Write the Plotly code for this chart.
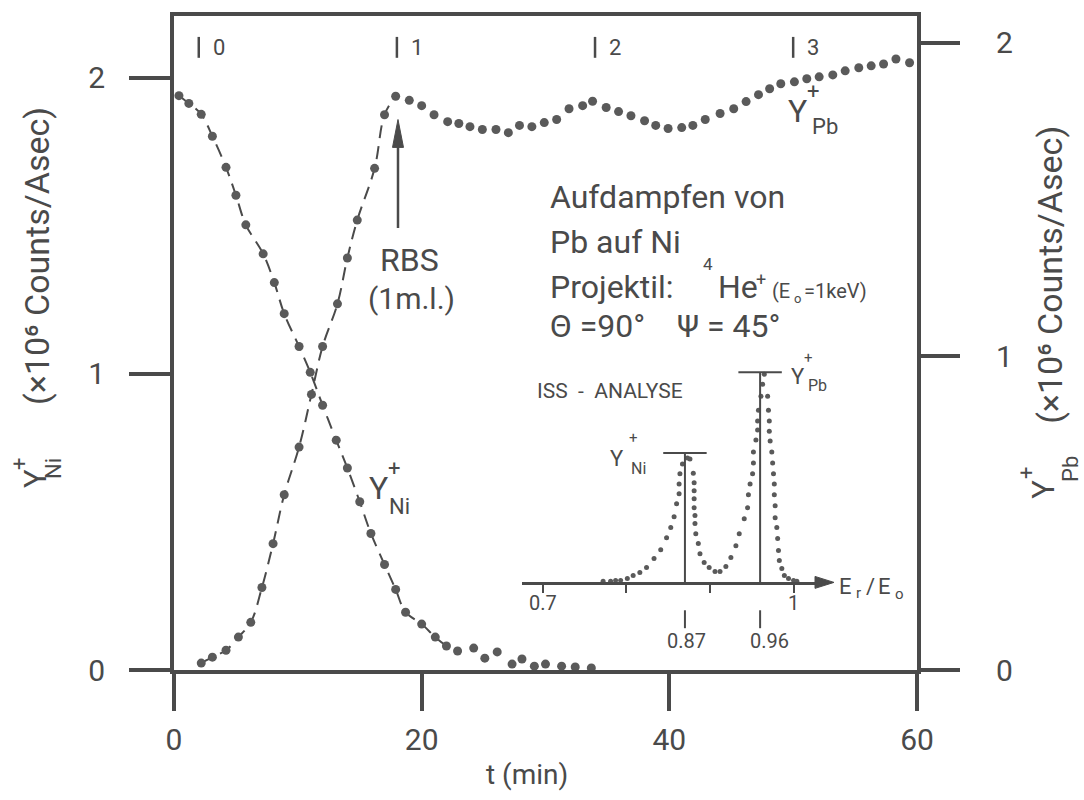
import plotly.graph_objects as go

# ---- time scan: ion yields while Pb is evaporated onto Ni ----
t_ni = [0.4, 1.2, 2.2, 3.1, 4.2, 5.0, 5.8, 7.2, 8.1, 8.9, 10.1, 11.0, 12.0, 13.1,
        14.0, 15.0, 15.9, 17.0, 17.9, 18.7, 20.0, 21.1, 22.0, 22.9, 24.2, 25.1,
        26.1, 27.3, 28.1, 29.1, 30.0, 31.3, 32.4, 33.7]
y_ni = [1.939, 1.913, 1.876, 1.802, 1.697, 1.603, 1.503, 1.405, 1.308, 1.203,
        1.092, 1.005, 0.894, 0.776, 0.682, 0.568, 0.461, 0.356, 0.272, 0.195,
        0.155, 0.111, 0.081, 0.064, 0.074, 0.040, 0.061, 0.020, 0.037, 0.013,
        0.020, 0.013, 0.010, 0.007]

t_pb = [2.2, 3.1, 4.2, 5.2, 6.2, 7.1, 8.0, 8.9, 10.1, 11.1, 12.0, 13.2, 14.0,
        14.8, 16.2, 17.0, 17.9, 19.0, 20.0, 21.0, 22.1, 23.0, 23.9, 24.9, 26.0,
        27.0, 27.9, 28.9, 29.9, 30.9, 31.9, 33.0, 33.8, 34.9, 35.9, 36.9, 38.0,
        38.9, 39.9, 41.0, 41.9, 42.9, 44.1, 45.2, 46.2, 47.2, 48.1, 49.0, 50.1,
        51.1, 52.1, 53.2, 54.2, 55.3, 56.3, 57.3, 58.3, 59.4]
y_pb = [0.022, 0.041, 0.063, 0.105, 0.152, 0.263, 0.403, 0.559, 0.711, 0.879,
        1.032, 1.168, 1.314, 1.435, 1.600, 1.771, 1.830, 1.817, 1.800, 1.771,
        1.749, 1.743, 1.733, 1.724, 1.724, 1.714, 1.737, 1.733, 1.746, 1.756,
        1.790, 1.800, 1.814, 1.794, 1.781, 1.768, 1.752, 1.737, 1.727, 1.730,
        1.737, 1.756, 1.775, 1.790, 1.813, 1.835, 1.854, 1.870, 1.876, 1.886,
        1.892, 1.898, 1.911, 1.921, 1.927, 1.933, 1.949, 1.937]

# the dashed guide curves only run through the early part of each series
ni_guide_end = 22.0
pb_guide_end = 17.9

# times at which ISS spectra were taken
spec_t = [2, 18, 34, 50]
spec_labels = ["0", "1", "2", "3"]

# ---- inset: ISS spectrum (E_r/E_o vs. normalised yield) ----
iss_e = [0.772, 0.781, 0.787, 0.793, 0.801, 0.808, 0.816, 0.824, 0.833, 0.841,
         0.848, 0.853, 0.857, 0.860, 0.863, 0.863, 0.864, 0.867, 0.873, 0.876,
         0.880, 0.881, 0.881, 0.881, 0.881, 0.882, 0.882, 0.883, 0.886, 0.888,
         0.893, 0.899, 0.906, 0.912, 0.919, 0.925, 0.931, 0.935, 0.941, 0.945,
         0.946, 0.948, 0.951, 0.952, 0.952, 0.955, 0.957, 0.957, 0.958, 0.961,
         0.963, 0.965, 0.969, 0.970, 0.971, 0.971, 0.972, 0.974, 0.975, 0.976,
         0.977, 0.977, 0.978, 0.978, 0.980, 0.981, 0.982, 0.983, 0.986, 0.989,
         0.994, 1.000, 1.004]
iss_i = [0.005, 0.005, 0.009, 0.009, 0.019, 0.033, 0.047, 0.071, 0.114, 0.156,
         0.213, 0.261, 0.313, 0.374, 0.422, 0.469, 0.517, 0.564, 0.592, 0.588,
         0.520, 0.474, 0.436, 0.398, 0.355, 0.318, 0.280, 0.232, 0.185, 0.137,
         0.095, 0.071, 0.052, 0.052, 0.076, 0.118, 0.175, 0.232, 0.303, 0.355,
         0.417, 0.469, 0.517, 0.569, 0.621, 0.678, 0.725, 0.768, 0.820, 0.886,
         0.943, 0.991, 0.886, 0.820, 0.768, 0.720, 0.673, 0.621, 0.569, 0.517,
         0.469, 0.417, 0.365, 0.308, 0.261, 0.209, 0.152, 0.104, 0.066, 0.033,
         0.019, 0.009, 0.005]
peak_e = [0.87, 0.96]
peak_i = [0.616, 1.0]
peak_labels = ["0.87", "0.96"]

x_ticks = [0, 20, 40, 60]
y_ticks = [0, 1, 2]
e_ticks = [0.7, 0.8, 0.9, 1.0]
e_labelled = [0.7, 1.0]
e_labels = ["0.7", "1"]

# ---- page geometry ----
W, H = 1084, 800
L, R, T, B = 174, 917, 13, 670
FONT = "Roboto, DejaVu Sans"
INK = "#4a4a4a"
DOT = "#5a5a5a"


def px(x):
    return (x - L) / (R - L)


def py(y):
    return (B - y) / (B - T)


fig = go.Figure()

ni_guide = [(t, v) for t, v in zip(t_ni, y_ni) if t <= ni_guide_end]
pb_guide = [(t, v) for t, v in zip(t_pb, y_pb) if t <= pb_guide_end]

fig.add_trace(go.Scatter(
    x=[p[0] for p in ni_guide], y=[p[1] for p in ni_guide], mode="lines",
    line=dict(color=INK, width=2, dash="13px,8px", shape="spline"),
    hoverinfo="skip", showlegend=False))
fig.add_trace(go.Scatter(
    x=t_ni, y=y_ni, mode="markers", name="Y+ Ni",
    marker=dict(size=9, color=DOT), showlegend=False))
fig.add_trace(go.Scatter(
    x=[p[0] for p in pb_guide], y=[p[1] for p in pb_guide], mode="lines",
    yaxis="y2",
    line=dict(color=INK, width=2, dash="13px,8px", shape="spline"),
    hoverinfo="skip", showlegend=False))
fig.add_trace(go.Scatter(
    x=t_pb, y=y_pb, mode="markers", name="Y+ Pb", yaxis="y2",
    marker=dict(size=9, color=DOT), showlegend=False))
fig.add_trace(go.Scatter(
    x=iss_e, y=iss_i, mode="markers", xaxis="x3", yaxis="y3",
    marker=dict(size=5, color=DOT), showlegend=False))

axis_common = dict(showgrid=False, zeroline=False, showline=True,
                   linecolor=INK, linewidth=4, ticks="outside",
                   tickcolor=INK, tickwidth=4,
                   tickfont=dict(family=FONT, size=30, color=INK))

fig.update_layout(
    width=W, height=H,
    margin=dict(l=L, r=W - R, t=T, b=H - B),
    paper_bgcolor="white", plot_bgcolor="white",
    font=dict(family=FONT, color=INK),
    xaxis=dict(range=[0, 60], tickvals=x_ticks, ticklen=37, mirror=True,
               ticklabelstandoff=3, **axis_common),
    yaxis=dict(range=[0, 2.208], tickvals=y_ticks, ticklen=41, mirror=True,
               ticklabelstandoff=18, **axis_common),
    yaxis2=dict(range=[0, 2.086], tickvals=y_ticks, ticklen=42,
                overlaying="y", side="right", showgrid=False, zeroline=False,
                showline=False, ticks="outside", tickcolor=INK, tickwidth=4,
                ticklabelstandoff=30,
                tickfont=dict(family=FONT, size=30, color=INK)),
    xaxis3=dict(domain=[px(522), px(824)], anchor="y3",
                range=[0.6749, 1.0365], tickvals=e_ticks,
                showticklabels=False,
                showgrid=False, zeroline=False, showline=True,
                linecolor=INK, linewidth=2.5, ticks="outside", ticklen=8,
                tickwidth=2, tickcolor=INK),
    yaxis3=dict(domain=[py(582), py(355)], anchor="x3", range=[0, 1.0758],
                visible=False),
)


def P(x, y):
    return f"{px(x):.5f},{py(y):.5f}"


shapes = []
# spectrum time markers along the top
for t in spec_t:
    shapes.append(dict(type="line", xref="x", yref="paper", x0=t, x1=t,
                       y0=py(55), y1=py(34), line=dict(color=INK, width=2.5)))
# inset peak positions with height caps
for e, h in zip(peak_e, peak_i):
    shapes.append(dict(type="line", xref="x3", yref="y3", x0=e, x1=e,
                       y0=0, y1=h, line=dict(color=INK, width=2)))
    shapes.append(dict(type="line", xref="x3", yref="y3", x0=e - 0.026,
                       x1=e + 0.026, y0=h, y1=h, line=dict(color=INK, width=2)))
    shapes.append(dict(type="line", xref="x3", yref="paper", x0=e, x1=e,
                       y0=py(628), y1=py(610), line=dict(color=INK, width=2)))
# RBS arrow: shaft and filled head
shapes.append(dict(type="line", xref="paper", yref="paper",
                   x0=px(398), x1=px(398), y0=py(226), y1=py(138),
                   line=dict(color=INK, width=2.5)))
shapes.append(dict(type="path", xref="paper", yref="paper",
                   path=f"M{P(398, 117)} L{P(392.5, 145)} L{P(403.5, 145)} Z",
                   fillcolor=INK, line=dict(color=INK, width=1)))
# arrow head closing the inset energy axis
shapes.append(dict(type="path", xref="paper", yref="paper",
                   path=f"M{P(834, 582)} L{P(815, 576)} L{P(815, 588)} Z",
                   fillcolor=INK, line=dict(color=INK, width=1)))
fig.update_layout(shapes=shapes)


def label(x, y, text, size, anchor="center", angle=0, **kw):
    fig.add_annotation(x=px(x), y=py(y), xref="paper", yref="paper",
                       text=text, showarrow=False, xanchor=anchor,
                       yanchor="middle", textangle=angle,
                       font=dict(family=FONT, size=size, color=INK), **kw)


for t, s in zip(spec_t, spec_labels):
    fig.add_annotation(x=t, y=py(45), xref="x", yref="paper", text=s,
                       xanchor="left", yanchor="middle", xshift=12,
                       showarrow=False,
                       font=dict(family=FONT, size=22, color=INK))

# axis titles
label(37, 254, "(×10⁶ Counts/Asec)", 34, angle=-90)
label(36, 478, "Y", 31, angle=-90)
label(20, 463, "+", 22, angle=-90)
label(54, 468, "Ni", 22, angle=-90)
label(1050, 273, "(×10⁶ Counts/Asec)", 34, angle=-90)
label(1044, 489, "Y", 31, angle=-90)
label(1027, 472, "+", 22, angle=-90)
label(1071, 468, "Pb", 22, angle=-90)
label(527, 775, "t (min)", 28)

# RBS marker text
label(409, 258, "RBS", 32)
label(411, 297, "(1m.l.)", 30)

# experiment description
label(548, 195, "Aufdampfen von", 32, anchor="left")
label(548, 240, "Pb auf Ni", 32, anchor="left")
label(548, 285, "Projektil:", 32, anchor="left")
label(708, 262, "4", 17)
label(716, 285, "He", 32, anchor="left")
label(761, 278, "+", 18)
label(770, 289, "(E", 20, anchor="left")
label(797, 297, "o", 13)
label(802, 289, "=1keV)", 20, anchor="left")
label(548, 324, "Θ =90°    Ψ = 45°", 32, anchor="left")

# curve labels
label(378, 487, "Y", 32)
label(394, 468, "+", 22)
label(399, 506, "Ni", 22)
label(797, 108, "Y", 32)
label(813, 89, "+", 22)
label(825, 124, "Pb", 22)

# inset labels
label(610, 390, "ISS  -  ANALYSE", 21)
label(617, 458, "Y", 22)
label(633, 437, "+", 15)
label(638, 468, "Ni", 16)
label(798, 375, "Y", 22)
label(808, 357, "+", 15)
label(817, 384, "Pb", 16)
label(845, 586, "E", 22)
label(858, 593, "r", 15)
label(870, 586, "/", 22)
label(884, 586, "E", 22)
label(899, 594, "o", 15)
for e, s in zip(e_labelled, e_labels):
    fig.add_annotation(x=e, y=py(603), xref="x3", yref="paper", text=s,
                       showarrow=False, xanchor="center", yanchor="middle",
                       font=dict(family=FONT, size=20, color=INK))
for e, s, dx in zip(peak_e, peak_labels, [2, 9]):
    fig.add_annotation(x=e, y=py(641), xref="x3", yref="paper", text=s,
                       showarrow=False, xanchor="center", yanchor="middle",
                       xshift=dx, font=dict(family=FONT, size=20, color=INK))

fig.write_html("out.html")
